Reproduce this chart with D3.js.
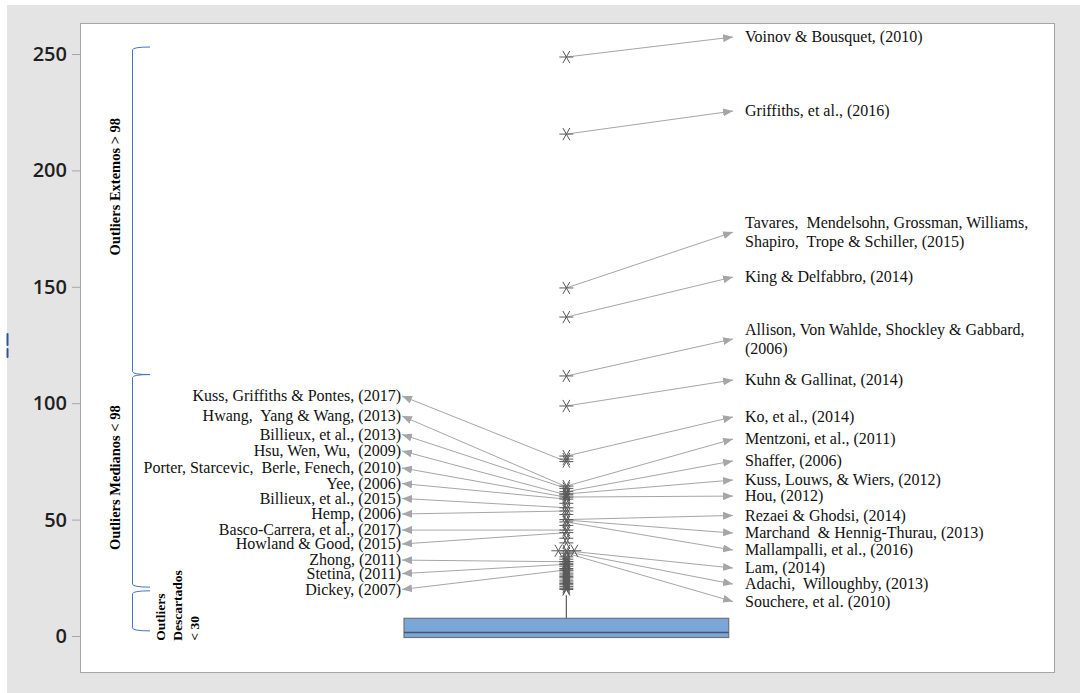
<!DOCTYPE html>
<html>
<head>
<meta charset="utf-8">
<script src="https://cdn.jsdelivr.net/npm/d3@7"></script>
<style>
  html, body { margin: 0; padding: 0; background: #ffffff; }
  svg { display: block; }
</style>
</head>
<body>
<div id="chart"></div>
<script>
// valores (boxplot de outliers con referencias)

const tickValues = [0, 50, 100, 150, 200, 250];

const boxQuartiles = [0, 1.5, 7.6];     // q1, mediana, q3
const whiskerTop = 17.5;

const outlierValues = [
  248.7, 215.6, 149.5, 137, 111.7, 98.8,
  77.3, 76, 74.9,
  64.4, 63.4, 62, 61, 60.6, 59.7, 58.8, 57, 55.1, 53.7, 52.2, 50, 49, 47.5, 45.5, 44.4, 42, 40,
  36.6, 36.6, 36.6, 35.6, 34, 33, 32, 31.9, 31, 30.8, 30, 29, 28.4, 28, 27, 26.2, 25.5, 25,
  24, 23.2, 22.5, 22, 21.2, 20.5, 20
];

const rightLabels = [
  ["Voinov & Bousquet, (2010)"],
  ["Griffiths, et al., (2016)"],
  ["Tavares,  Mendelsohn, Grossman, Williams,", "Shapiro,  Trope & Schiller, (2015)"],
  ["King & Delfabbro, (2014)"],
  ["Allison, Von Wahlde, Shockley & Gabbard,", "(2006)"],
  ["Kuhn & Gallinat, (2014)"],
  ["Ko, et al., (2014)"],
  ["Mentzoni, et al., (2011)"],
  ["Shaffer, (2006)"],
  ["Kuss, Louws, & Wiers, (2012)"],
  ["Hou, (2012)"],
  ["Rezaei & Ghodsi, (2014)"],
  ["Marchand  & Hennig-Thurau, (2013)"],
  ["Mallampalli, et al., (2016)"],
  ["Lam, (2014)"],
  ["Adachi,  Willoughby, (2013)"],
  ["Souchere, et al. (2010)"]
];
const rightSources = [248.7, 215.6, 149.5, 137, 111.7, 98.8, 77.3, 64.4, 62, 61, 59.7, 50, 49.8, 49, 36.6, 36.2, 35.6];
const rightLabelAt = [257.3, 225.5, 173.5, 154.2, 127.6, 110, 94.1, 84.6, 75.2, 67, 60.1, 51.8, 44.2, 36.9, 29.2, 22.3, 14.8];

const leftLabels = [
  "Kuss, Griffiths & Pontes, (2017)",
  "Hwang,  Yang & Wang, (2013)",
  "Billieux, et al., (2013)",
  "Hsu, Wen, Wu,  (2009)",
  "Porter, Starcevic,  Berle, Fenech, (2010)",
  "Yee, (2006)",
  "Billieux, et al., (2015)",
  "Hemp, (2006)",
  "Basco-Carrera, et al., (2017)",
  "Howland & Good, (2015)",
  "Zhong, (2011)",
  "Stetina, (2011)",
  "Dickey, (2007)"
];
const leftSources = [74.9, 64.1, 63.4, 60.6, 59.6, 58.8, 55.1, 53.7, 45.5, 44.4, 31.9, 30.8, 28.4];
const leftLabelAt = [103.1, 94.5, 86.6, 79.5, 72.2, 65.5, 59.1, 52.4, 45.5, 39.5, 32.6, 26.8, 20];

const groupNames = [
  ["Outliers Extemos > 98"],
  ["Outliers Medianos < 98"],
  ["Outliers", "Descartados", "< 30"]
];
const groupRanges = [[253, 112.3], [112.3, 21], [19.4, 2.2]];
const groupLabelAt = [193, 68, -2];

// ---------------------------------------------------------------

const width = 1080;
const height = 693;
const frame = {x0: 80, y0: 23, x1: 1054, y1: 672};

const svg = d3.select("#chart").append("svg")
  .attr("width", width)
  .attr("height", height);

svg.append("rect")
  .attr("x", 7).attr("y", 5)
  .attr("width", width - 7).attr("height", height - 5)
  .attr("fill", "#e4e4e4");

// pequeño resto azul al borde izquierdo
svg.append("g")
  .attr("stroke", "#2f5597").attr("stroke-width", 2).attr("stroke-linecap", "round")
  .selectAll("line")
  .data([[334, 345], [349, 357]])
  .join("line")
  .attr("x1", 7.5).attr("x2", 7.5)
  .attr("y1", (d) => d[0]).attr("y2", (d) => d[1]);

svg.append("rect")
  .attr("x", frame.x0 + 0.5).attr("y", frame.y0 + 0.5)
  .attr("width", frame.x1 - frame.x0).attr("height", frame.y1 - frame.y0)
  .attr("fill", "#ffffff")
  .attr("stroke", "#a6a6a6");

// scales
const yScale = d3.scaleLinear().domain([0, 250]).range([636, 54]);
const xScale = d3.scaleLinear().domain([-1, 1]).range([404, 728.7]);
const cx = xScale(0);

// y axis
const yAxis = d3.axisLeft(yScale).tickValues(tickValues).tickSize(8).tickPadding(5);
const yAxisG = svg.append("g")
  .attr("transform", `translate(${frame.x0}, 0)`)
  .call(yAxis);
yAxisG.select(".domain").remove();
yAxisG.selectAll(".tick line").attr("stroke", "#a6a6a6");
yAxisG.selectAll(".tick text")
  .attr("fill", "#1f1f1f")
  .style("font-family", "'Open Sans', sans-serif")
  .style("font-weight", "600")
  .style("font-size", "20px");

// brackets of groups
const bracketX = 132.5;
const hookX = 150;
const brackets = svg.append("g")
  .attr("fill", "none").attr("stroke", "#4472c4").attr("stroke-width", 1);
brackets.selectAll("path")
  .data(groupRanges)
  .join("path")
  .attr("d", (d) => {
    const ya = yScale(d[0]), yb = yScale(d[1]);
    return `M${hookX},${ya} Q${bracketX},${ya} ${bracketX},${ya + 3} L${bracketX},${yb - 3} Q${bracketX},${yb} ${hookX},${yb}`;
  });

const groupFont = (sel, size) => sel
  .style("font-family", "'Liberation Serif', 'Times New Roman', serif")
  .style("font-weight", "bold")
  .style("font-size", size)
  .attr("fill", "#000000");

// two first groups: centered text
[0, 1].forEach((i) => {
  svg.append("text")
    .attr("transform", `translate(120, ${yScale(groupLabelAt[i])}) rotate(-90)`)
    .attr("text-anchor", "middle")
    .call(groupFont, "14.5px")
    .text(groupNames[i][0]);
});
// last group: three lines, bottom aligned
svg.append("g")
  .selectAll("text")
  .data(groupNames[2])
  .join("text")
  .attr("transform", (d, i) => `translate(${165 + i * 17}, ${yScale(groupLabelAt[2])}) rotate(-90)`)
  .attr("text-anchor", "start")
  .call(groupFont, "13.5px")
  .text((d) => d);

// arrows
const arrowColor = "#a6a6a6";
svg.append("defs").append("marker")
  .attr("id", "head")
  .attr("viewBox", "0 0 10 8")
  .attr("refX", 10).attr("refY", 4)
  .attr("markerWidth", 10).attr("markerHeight", 8)
  .attr("markerUnits", "userSpaceOnUse")
  .attr("orient", "auto")
  .append("path")
  .attr("d", "M0,0 L10,4 L0,8 Z")
  .attr("fill", arrowColor);

const rightTipX = 733;
const leftTipX = 402;

const arrows = svg.append("g").attr("stroke", arrowColor).attr("stroke-width", 1);
arrows.selectAll("line.r")
  .data(rightSources)
  .join("line")
  .attr("class", "r")
  .attr("x1", cx).attr("y1", (d) => yScale(d))
  .attr("x2", rightTipX).attr("y2", (d, i) => yScale(rightLabelAt[i]))
  .attr("marker-end", "url(#head)");
arrows.selectAll("line.l")
  .data(leftSources)
  .join("line")
  .attr("class", "l")
  .attr("x1", cx).attr("y1", (d) => yScale(d))
  .attr("x2", leftTipX).attr("y2", (d, i) => yScale(leftLabelAt[i]))
  .attr("marker-end", "url(#head)");

// box
const boxG = svg.append("g");
boxG.append("line")
  .attr("x1", cx).attr("x2", cx)
  .attr("y1", yScale(boxQuartiles[2])).attr("y2", yScale(whiskerTop))
  .attr("stroke", "#595959").attr("stroke-width", 1.2);
boxG.append("rect")
  .attr("x", xScale(-1)).attr("width", xScale(1) - xScale(-1))
  .attr("y", yScale(boxQuartiles[2]))
  .attr("height", yScale(boxQuartiles[0]) - yScale(boxQuartiles[2]) + 1.5)
  .attr("fill", "#7aa6da")
  .attr("stroke", "#737373").attr("stroke-width", 1.2);
boxG.append("line")
  .attr("x1", xScale(-1)).attr("x2", xScale(1))
  .attr("y1", yScale(boxQuartiles[1])).attr("y2", yScale(boxQuartiles[1]))
  .attr("stroke", "#44546a").attr("stroke-width", 1.5);

// outliers: asterisk markers, equal values put side by side
const counts = d3.rollup(outlierValues, (v) => v.length, (d) => d);
const seen = new Map();
const outlierPoints = outlierValues.map((v) => {
  const k = seen.get(v) || 0;
  seen.set(v, k + 1);
  const n = counts.get(v);
  return {value: v, dx: (k - (n - 1) / 2) * 8};
});
const r = 7;
const starPath = `M${-r},0 H${r} M${-r * 0.5},${-r * 0.87} L${r * 0.5},${r * 0.87} M${r * 0.5},${-r * 0.87} L${-r * 0.5},${r * 0.87}`;
svg.append("g")
  .selectAll("path")
  .data(outlierPoints)
  .join("path")
  .attr("transform", (d) => `translate(${cx + d.dx}, ${yScale(d.value)})`)
  .attr("d", starPath)
  .attr("fill", "none")
  .attr("stroke", "#595959")
  .attr("stroke-width", 1);

// labels
const labelFont = (sel) => sel
  .style("font-family", "'Liberation Serif', 'Times New Roman', serif")
  .style("font-size", "16px")
  .style("white-space", "pre")
  .attr("fill", "#111111");

const rightText = svg.append("g")
  .selectAll("text")
  .data(rightLabels)
  .join("text")
  .attr("x", 745)
  .attr("y", (d, i) => yScale(rightLabelAt[i]) - (d.length - 1) * 9.5)
  .call(labelFont);
rightText.selectAll("tspan")
  .data((d) => d)
  .join("tspan")
  .attr("x", 745)
  .attr("dy", (d, i) => (i === 0 ? "0.33em" : 19))
  .text((d) => d);

svg.append("g")
  .selectAll("text")
  .data(leftLabels)
  .join("text")
  .attr("x", 401)
  .attr("y", (d, i) => yScale(leftLabelAt[i]))
  .attr("dy", "0.33em")
  .attr("text-anchor", "end")
  .call(labelFont)
  .text((d) => d);
</script>
</body>
</html>
